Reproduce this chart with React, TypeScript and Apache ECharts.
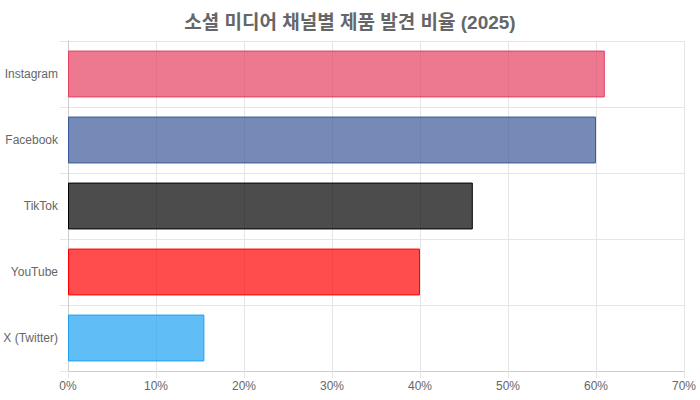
import { useEffect, useRef } from 'react';
import * as echarts from 'echarts';

const channels = ['Instagram', 'Facebook', 'TikTok', 'YouTube', 'X (Twitter)'];
const shares = [61, 60, 46, 40, 15.5];
const brandColors = ['#E4405F', '#3B5998', '#000000', '#FF0000', '#1DA1F2'];
const xTicks = [0, 10, 20, 30, 40, 50, 60, 70];

const FONT = '"Liberation Sans", Arial, "Noto Sans CJK KR", sans-serif';

function withAlpha(hex: string, a: number) {
  const n = parseInt(hex.slice(1), 16);
  return `rgba(${(n >> 16) & 255}, ${(n >> 8) & 255}, ${n & 255}, ${a})`;
}

/** Horizontal bars — share of product discovery by social channel. */
export default function App() {
  const ref = useRef<HTMLDivElement | null>(null);

  useEffect(() => {
    if (!ref.current) return;
    const chart = echarts.init(ref.current, undefined, { renderer: 'svg' });

    chart.setOption({
      animation: false,
      title: {
        text: '소셜 미디어 채널별 제품 발견 비율 (2025)',
        left: 'center',
        top: 8,
        textStyle: { color: '#666', fontSize: 19, fontWeight: 'bold', fontFamily: FONT },
      },
      grid: { left: 68, right: 16, top: 41, bottom: 29, containLabel: false },
      xAxis: {
        type: 'value',
        min: xTicks[0],
        max: xTicks[xTicks.length - 1],
        interval: 10,
        axisLine: { show: true, lineStyle: { color: '#ccc' } },
        axisTick: { show: true, length: 7, lineStyle: { color: '#e5e5e5' } },
        splitLine: { show: true, lineStyle: { color: '#e5e5e5' } },
        axisLabel: {
          color: '#666',
          fontSize: 12,
          fontFamily: FONT,
          margin: 9,
          formatter: (v: number) => `${v}%`,
        },
      },
      yAxis: {
        type: 'category',
        inverse: true,
        data: channels,
        axisLine: { show: true, lineStyle: { color: '#ccc' } },
        axisTick: { show: true, length: 8, lineStyle: { color: '#e5e5e5' } },
        splitLine: { show: true, lineStyle: { color: '#e5e5e5' } },
        axisLabel: { color: '#666', fontSize: 12, fontFamily: FONT, margin: 10 },
      },
      series: [
        {
          type: 'bar',
          barCategoryGap: '29%',
          data: shares.map((v, i) => ({
            value: v,
            itemStyle: {
              color: withAlpha(brandColors[i], 0.7),
              borderColor: brandColors[i],
              borderWidth: 1,
            },
          })),
        },
      ],
    });

    const handleResize = () => chart.resize();
    window.addEventListener('resize', handleResize);
    return () => {
      window.removeEventListener('resize', handleResize);
      chart.dispose();
    };
  }, []);

  return (
    <div
      ref={ref}
      style={{ position: 'absolute', left: 0, top: 0, width: 700, height: 400, background: '#fff' }}
    />
  );
}
